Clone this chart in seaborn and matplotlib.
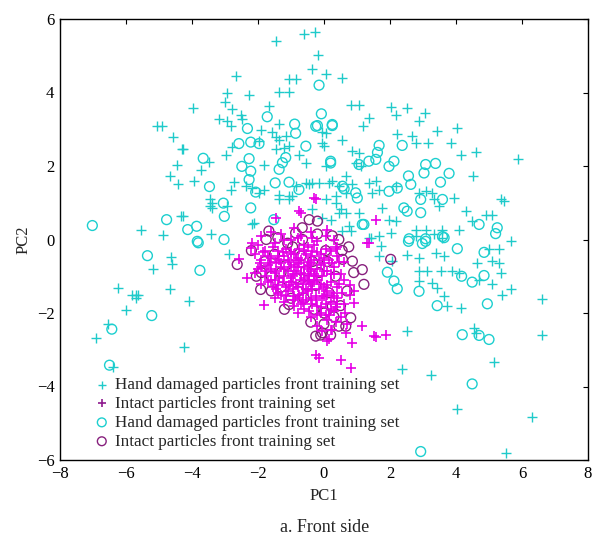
import matplotlib
matplotlib.use("Agg")
import matplotlib.pyplot as plt
import seaborn as sns

# ---------------- data ----------------
hand_train_x = [-1.46, -0.61, -0.27, -0.17, -0.35, -2.68, -1.06, -0.86, -1.36, -1.06, -2.95, -2.27, -3.96, -1.67,
                -5.07, -4.92, -2.99, -2.80, -2.53, -3.18, -2.93, -2.83, -2.48, -4.57, -4.26, -4.46, -4.67, -4.41,
                -3.94, -3.74, -3.48, -2.78, -2.98, -2.73, -2.82, -2.37, -2.17, -1.97, -1.82, -1.82, -1.92, -1.97,
                -1.57, -1.46, -1.36, -1.16, -1.06, -0.76, -0.55, -1.36, -1.06, -0.96, -0.55, -0.35, -0.15, -3.38,
                -3.38, -2.93, -4.34, -5.55, -4.87, -3.41, -2.17, -0.35, -0.05, -0.05, -0.06, 0.05,
                0.05, 0.54, 0.81, 1.06, 1.37, 1.19, 2.02, 2.17, 2.52, 3.06, 2.88, 2.22, 2.68, 2.78, 3.43, 4.04,
                3.16, 3.84, 4.14, 4.60, 4.52, 5.88, 0.54, 0.86, 1.06, 0.96, 1.11, 0.25, 0.66, 0.86, 1.36, 1.57,
                1.67, 1.46, 2.17, 2.88, 3.08, 3.28, 3.33, 3.94, 3.48, 1.06, 1.77, 1.97, 2.17, 2.78, 3.08, 3.59,
                4.09, 4.29, 4.49, 4.90, 5.10, 5.35, 5.45, 0.05, 0.35, 0.51, 0.76, 0.20, 1.41, 2.02,
                0.56, 0.81, 1.36, 1.67, 1.72, 1.67, 2.52, 2.88, 2.78, 3.33, 3.59, 3.38, 3.64, 2.88, 3.13, 2.88,
                3.54, 3.89, 4.09, 3.28, 3.43, 3.64, 3.74, 4.14, 4.65, 4.70, 5.10, 5.30, 5.10, 5.35, 5.40, 5.66,
                5.66, 5.00, 5.30, 6.60, 6.60, 2.52, 4.55, 4.60, 5.15, 2.35, 3.23, 4.04, 6.29, 5.53, 2.07,
                -2.88, -4.63, -4.60, -5.19, -6.25, -5.83, -5.70, -5.63, -5.70, -4.67, -4.10, -6.00, -6.55, -6.92,
                -4.24, -6.38, -1.36, -1.46, -1.21, 0.05, 0.00, -0.86, -0.45, -1.36, -1.06, 0.15, 0.45, 0.66,
                0.35, 0.45, 0.66, -3.44, -3.44, -4.31, -4.26, -2.12]
hand_train_y = [5.39, 5.60, 5.65, 5.02, 4.63, 4.44, 4.38, 4.38, 4.02, 4.02, 3.98, 3.93, 3.57, 3.63,
                3.08, 3.08, 3.73, 3.54, 3.40, 3.27, 3.22, 3.10, 3.27, 2.79, 2.47, 2.02, 1.73, 1.50,
                1.59, 1.89, 2.12, 2.52, 2.29, 1.56, 1.36, 1.45, 1.41, 1.27, 1.36, 2.04, 2.99, 2.69,
                2.92, 2.78, 3.13, 2.81, 2.54, 2.31, 2.08, 1.09, 1.09, 1.18, 1.54, 1.54, 1.54, 1.00,
                0.86, 0.91, 0.65, 0.27, 0.11, 0.14, 0.43, 0.82, 0.59, 2.63, 2.92, 1.99,
                4.49, 4.40, 3.67, 3.65, 3.31, 3.08, 3.60, 3.40, 3.58, 3.45, 3.22, 2.86, 2.81, 2.63, 2.95, 3.04,
                2.63, 2.63, 2.31, 2.39, 1.73, 2.20, 2.72, 2.40, 2.36, 2.08, 2.00, 1.59, 1.72, 1.50, 1.54, 1.59,
                1.36, 1.27, 1.45, 1.27, 1.32, 1.27, 1.09, 1.13, 0.91, 0.73, 0.86, 0.54, 0.50, 0.27, 0.27, 0.27,
                0.27, 0.77, 0.50, 0.68, 0.68, 1.09, 1.04, 1.09, 1.18, 0.82, 0.36, 0.54, 0.05, 0.18,
                0.23, 0.23, 0.05, 0.09, -0.18, -0.45, -0.41, -0.50, 0.09, 0.14, 0.05, -0.36, -0.45, -0.86, -0.86, -1.13,
                -0.86, -0.86, -0.91, -1.18, -1.32, -1.54, -1.81, -1.86, -0.63, -1.09, -0.59, -0.63, -1.22, -0.91, -1.50, -1.36,
                -0.05, -0.27, -0.27, -1.63, -2.59, -2.49, -2.40, -2.54, -3.32, -3.53, -3.70, -4.60, -4.84, -5.82, -0.59,
                -0.39, -0.47, -0.66, -0.80, -1.31, -1.52, -1.50, -1.50, -1.59, -1.36, -1.66, -1.93, -2.31, -2.68,
                -2.92, -3.46, 2.72, 2.45, 2.50, 2.90, 2.54, 1.45, 1.50, 1.22, 1.18, 1.54, 1.45, 1.27,
                1.00, 0.73, 0.73, 1.09, 0.91, 2.46, 0.65, 0.45]

intact_train_x = [-0.25, -0.71, -1.46, -2.17, -2.22, -2.58, -2.32, -1.82, -1.46, 0.05, 0.35, 0.05, 0.91, 0.91,
                  1.16, 1.52, 0.86, 0.10, -0.25, -0.15, 0.51, 0.81, 0.25, 0.66, 1.31, 1.57, 1.87, 1.57, 1.36,
                  -0.30, -0.76,
                  -1.9, -1.6, -1.3, -1.0, -0.7, -0.4, -0.2, 0.1, -1.5, -2.0, -0.9, 0.3,
                  -2.1, -1.8, -1.6, -1.4, -1.2, -1.0, -0.8, -0.6, -0.4, -0.2, 0.0, 0.2, 0.4, -1.9, -0.5, 0.6,
                  -2.0, -1.7, -1.5, -1.3, -1.1, -0.9, -0.7, -0.5, -0.3, -0.1, 0.1, 0.3, 0.5, -1.8, -1.2, -0.6,
                  -1.9, -1.6, -1.4, -1.0, -0.8, -0.4, -0.2, 0.0, 0.2, 0.4, 0.6, -1.1, -0.5, 0.8,
                  -1.5, -1.2, -0.9, -0.7, -0.4, -0.2, 0.0, 0.2, 0.4, 0.6, -0.6, 0.8,
                  -0.8, -0.4, -0.1, 0.1, 0.3, 0.5, 0.7, -0.2, 0.2,
                  -1.35, -1.05, -0.75, -0.45, -1.25, -0.95, -0.65, -0.35, -0.85, -0.55, -1.45, -0.15, -0.25,
                  -1.15, -0.05, -0.9, -0.3, 0.05, -1.7, -0.45,
                  -1.85, -1.65, -1.55, -1.35, -1.25, -1.15, -1.0, -0.95, -0.85, -0.8, -0.75, -0.65, -0.6,
                  -0.55, -0.5, -0.45, -0.4, -0.35, -0.3, -0.25, -0.2, -0.15, -0.1, -0.05, 0.0, 0.05, 0.1,
                  0.15, 0.2, 0.25, 0.3, 0.35, 0.4, 0.45, 0.55, 0.65, -1.75, -1.45, -1.3, -1.05, -0.9, -0.7,
                  -1.55, -2.1, -1.95, -0.35, -0.8, -1.2, 0.4, 0.15, -0.05,
                  -1.6, -1.4, -1.2, -1.1, -1.0, -0.9, -0.8, -0.7, -0.6, -0.5, -0.4, -0.3, -0.2, -0.1,
                  0.0, 0.1, 0.2, -1.3, -1.5, -1.15, -0.85, -0.55, -0.25, 0.05, 0.3, -0.1, 0.15, -0.65,
                  -1.0, -0.75, -1.7, -1.9, -0.35, -0.6, 0.25, 0.45, -1.4, -0.95, 0.35, -0.45]
intact_train_y = [1.09, 0.73, 0.59, -0.09, -0.23, -0.54, -1.04, -1.77, -1.36, 0.09, -0.27, -0.27, -1.41, -1.72,
                  -2.36, -2.63, -2.81, -2.76, -3.13, -3.22, -3.27, -3.50, -2.45, -2.54, -0.09, -2.65, -2.61, 0.54, -0.09,
                  1.13, 0.77,
                  0.1, 0.2, 0.15, 0.0, 0.1, 0.2, -0.05, 0.25, -0.1, -0.15, 0.3, 0.0,
                  -0.4, -0.3, -0.5, -0.3, -0.45, -0.35, -0.5, -0.3, -0.45, -0.35, -0.5, -0.3, -0.45, -0.55, -0.6, -0.6,
                  -0.8, -0.7, -0.9, -0.75, -0.85, -0.7, -0.9, -0.8, -0.95, -0.7, -0.85, -0.75, -0.95, -1.0, -1.0, -1.05,
                  -1.2, -1.1, -1.25, -1.15, -1.3, -1.2, -1.1, -1.3, -1.15, -1.3, -1.1, -1.4, -1.4, -1.25,
                  -1.6, -1.7, -1.55, -1.75, -1.6, -1.8, -1.55, -1.7, -1.6, -1.75, -1.9, -1.5,
                  -2.0, -2.1, -2.0, -2.2, -1.95, -2.1, -2.3, -2.35, -2.45,
                  -0.55, -0.6, -0.65, -0.7, -1.15, -1.0, -1.2, -1.35, -0.85, -0.4, -0.85, -0.55, -1.55,
                  -0.25, -1.0, -1.8, -0.15, -1.75, -0.45, -1.0,
                  -0.35, -0.65, -1.3, -1.05, -0.35, -1.55, -0.75, -1.35, -0.55, -1.6, -0.25, -1.45, -0.75,
                  -1.65, -0.2, -1.15, -0.85, -1.75, -0.55, -1.0, -2.05, -1.35, -0.4, -1.6, -0.85, -2.05, -1.25,
                  -0.55, -1.9, -1.45, -0.95, -2.25, -1.75, -0.6, -1.45, -2.0, -0.85, -0.6, -1.5, -1.25, -0.4, -1.1,
                  -0.2, -0.9, -0.65, 0.05, 0.05, 0.0, -0.2, -2.7, -2.5,
                  -0.8, -0.45, -0.8, -0.55, -1.05, -0.95, -0.75, -0.55, -0.95, -1.1, -0.65, -1.15, -0.8, -1.2,
                  -0.65, -1.5, -0.95, -0.65, -1.1, -1.3, -1.2, -1.35, -1.65, -1.4, -1.55, -1.85, -2.05, -1.7,
                  -0.4, -1.5, -1.15, -0.75, -0.3, -0.15, -0.65, -1.2, -1.45, -1.65, -1.85, -1.95]

hand_test_x = [-7.02, -4.77, -4.13, -3.86, -3.66, -3.47, -3.05, -3.02, -2.22, -2.49, -2.27, -2.22, -2.27, -2.07,
               -2.32, -2.58, -2.22, -1.97, -1.72, -0.89, -0.86, -0.55, -1.16, -1.26, -1.36, -1.48, -1.06, -0.76,
               -0.15, -0.08, -0.20, -1.52, -0.25, 0.25, 0.20, 0.56, 0.96,
               0.25, 1.67, 1.62, 2.12, 1.97, 1.36, 1.57, 1.06, 0.20, 2.37, 3.08, 3.03, 3.38, 3.79, 3.53, 2.56,
               2.63, 0.61, 1.01, 2.22, 1.97, 2.93, 3.59, 2.42, 2.52, 2.93, 1.21, 4.70, 5.25, 2.58, 3.08, 3.59,
               2.56, 2.98, 3.08, 3.64, 4.04, 4.85, 5.20, 1.92, 2.12, 2.22, 2.88, 3.43, 4.17, 4.49, 4.85, 4.95,
               4.19, 4.70, 5.00, 4.49, 2.93,
               -3.84, -3.81, -3.03, -5.35, -3.76, -5.22, -6.43, -6.50, 1.16]
hand_test_y = [0.38, 0.54, 0.27, 0.36, 2.21, 1.44, 0.99, 0.63, 0.86, 1.99, 2.20, 1.86, 1.63, 1.29,
               3.02, 2.61, 2.65, 2.61, 3.34, 3.14, 2.89, 2.54, 2.23, 2.09, 1.91, 1.54, 1.56, 1.36,
               4.20, 3.42, 3.10, 0.54, 3.08, 3.13, 2.13, 1.45, 1.27,
               3.10, 2.56, 2.37, 2.13, 1.99, 2.13, 2.18, 2.04, 2.08, 2.56, 2.04, 1.81, 2.07, 1.80, 1.56, 1.73,
               1.50, 1.38, 1.13, 1.40, 1.31, 1.09, 1.09, 0.86, 0.77, 0.73, 0.41, 0.41, 0.32, 0.02, 0.02, 0.08,
               -0.05, -0.11, -0.05, 0.05, -0.25, -0.35, 0.16, -0.89, -1.13, -1.34, -1.41, -1.80, -1.00, -1.16, -0.98, -1.75,
               -2.59, -2.61, -2.72, -3.93, -5.77,
               -0.05, -0.09, 0.00, -0.44, -0.84, -2.07, -2.44, -3.42, 0.41]

intact_test_x = [-0.20, -0.45, -1.67, -2.63, 0.45, 0.56, 0.86, 1.16, 1.21, -1.92, 0.81, 0.45, 0.66, -0.25,
                 -0.05, -1.06, 0.25, 2.02, -0.86, -0.66,
                 -2.2, -1.9, -1.75, -1.5, -1.3, -1.15, -0.95, -0.85, -0.7, -0.5, -0.35, -0.15, 0.05, 0.15,
                 0.35, 0.55, 0.7, 0.5, 0.3, 0.0, -0.3, -0.6, -1.0, -1.6, -1.8, -2.05, -1.4, -0.65, -0.2,
                 0.25, 0.9, 0.75, -0.4, 0.2, -0.1, -1.3, -0.8, -1.1, -0.55, 0.1, -0.25, -1.6, -1.2, 0.0]
intact_test_y = [0.50, 0.54, 0.23, -0.68, 0.00, -0.54, -0.59, -0.82, -1.22, -1.36, -2.13, -2.36, -2.36, -2.63,
                 -2.54, -1.77, -1.81, -0.54, 0.18, 0.32,
                 -0.3, -0.9, 0.0, -0.4, -1.3, -0.7, -0.2, -1.05, -0.45, -1.25, -0.6, -0.9, -0.3, -1.45,
                 -1.0, -0.3, -1.4, -1.8, -2.1, -2.3, -1.9, -1.6, -1.6, -1.4, -0.6, -1.0, 0.05, 0.0, 0.15,
                 0.1, -0.9, -0.2, -2.25, -2.6, -2.6, -0.9, -1.4, -0.1, -0.85, -0.6, -1.25, -1.0, -1.9, -2.0]

labels = ["Hand damaged particles front training set",
          "Intact particles front training set",
          "Hand damaged particles front training set",
          "Intact particles front training set"]
x_ticks = [-8, -6, -4, -2, 0, 2, 4, 6, 8]
y_ticks = [-6, -4, -2, 0, 2, 4, 6]

# ---------------- styling ----------------
sns.set_theme(style="white")
plt.rcParams["font.family"] = ["Liberation Serif", "DejaVu Serif"]

CYAN_P = "#1fcaca"
MAG_P = "#e600e6"
CYAN_O = "#1ccfcf"
PURP_O = "#87207d"

fig = plt.figure(figsize=(5.93, 5.47), dpi=100)
ax = fig.add_axes([60 / 593, 1 - 460 / 547, 528 / 593, 441 / 547])

sns.scatterplot(x=hand_train_x, y=hand_train_y, ax=ax, marker="+", s=55,
                color=CYAN_P, linewidth=1.0, label=labels[0], zorder=2)
sns.scatterplot(x=intact_train_x, y=intact_train_y, ax=ax, marker="+", s=55,
                color=MAG_P, linewidth=1.2, label=labels[1], zorder=4)
sns.scatterplot(x=hand_test_x, y=hand_test_y, ax=ax, marker="o", s=50,
                facecolor="none", edgecolor=CYAN_O, linewidth=1.0, label=labels[2], zorder=2)
sns.scatterplot(x=intact_test_x, y=intact_test_y, ax=ax, marker="o", s=50,
                facecolor="none", edgecolor=PURP_O, linewidth=1.0, label=labels[3], zorder=3)

ax.set_xlim(-8, 8)
ax.set_ylim(-6, 6)
ax.set_xticks(x_ticks)
ax.set_yticks(y_ticks)
ax.set_xticklabels([str(t).replace("-", "\u2212") for t in x_ticks])
ax.set_yticklabels([str(t).replace("-", "\u2212") for t in y_ticks])
ax.tick_params(direction="in", length=3.5, width=0.8, top=True, right=True,
               labelsize=12, colors="black", pad=4)
for sp in ax.spines.values():
    sp.set_color("black")
    sp.set_linewidth(1.0)
ax.set_xlabel("PC1", fontsize=12, labelpad=5)
ax.set_ylabel("PC2", fontsize=12, labelpad=4)

leg = ax.legend(loc="lower left", bbox_to_anchor=(0.05, 0.0), frameon=False,
                fontsize=12.3, handlelength=0.6, handletextpad=0.5, labelspacing=0.17,
                borderaxespad=0.2)
for h, c in zip(leg.legend_handles, [CYAN_P, "#8e1a8e", CYAN_O, PURP_O]):
    try:
        h.set_sizes([40])
        h.set_edgecolor(c)
    except Exception:
        pass

fig.text(325 / 593, 1 - 527 / 547, "a. Front side", ha="center", va="center", fontsize=13)

fig.savefig("out.png", dpi=100)
